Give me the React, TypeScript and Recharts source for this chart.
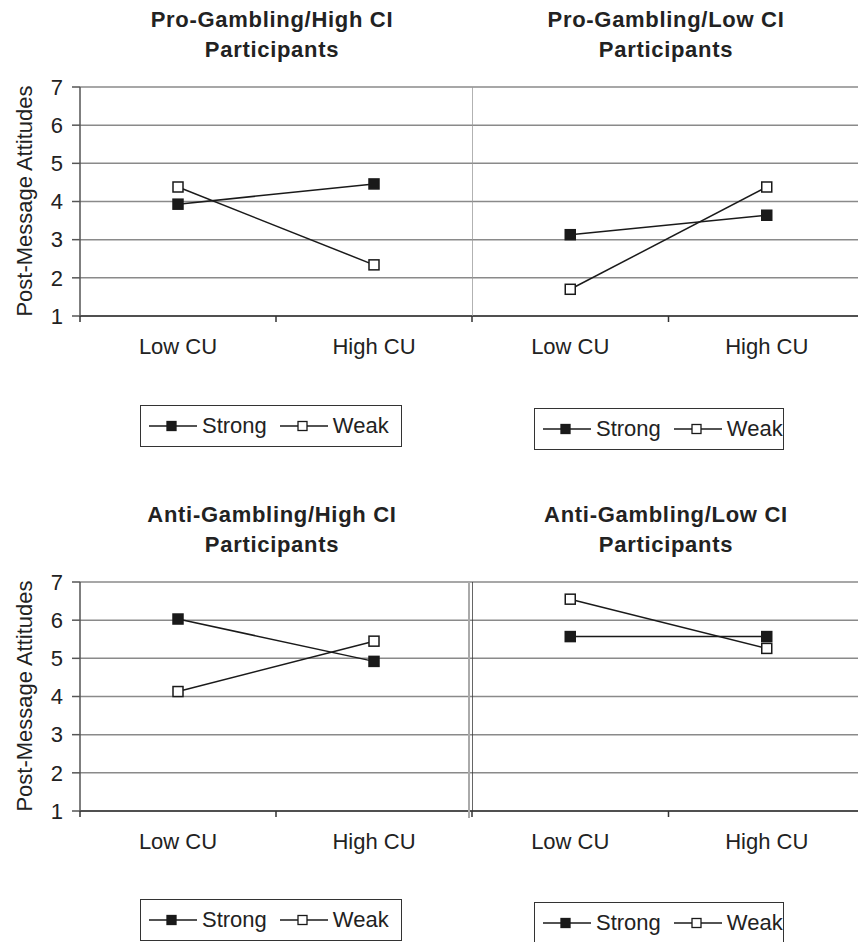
import React from 'react'
import { LineChart, Line, XAxis, YAxis, CartesianGrid, Label } from 'recharts'

const categories = ['Low CU', 'High CU']
const yTicks = [1, 2, 3, 4, 5, 6, 7]
const seriesNames = ['Strong', 'Weak']

const proHighStrong = [3.93, 4.46]
const proHighWeak = [4.38, 2.34]
const proLowStrong = [3.13, 3.64]
const proLowWeak = [1.7, 4.38]
const antiHighStrong = [6.03, 4.92]
const antiHighWeak = [4.13, 5.45]
const antiLowStrong = [5.57, 5.57]
const antiLowWeak = [6.55, 5.26]

const FONT = '"Liberation Sans", Arial, sans-serif'
const INK = '#1a1a1a'

const toRows = (strong: number[], weak: number[]) =>
    categories.map((c, i) => ({ cu: c, Strong: strong[i], Weak: weak[i] }))

const squareDot = (filled: boolean) => (props: any) => {
    const { cx, cy, index } = props
    if (cx == null || cy == null) return <g key={index} />
    return (
        <rect
            key={index}
            x={cx - 5}
            y={cy - 5}
            width={10}
            height={10}
            fill={filled ? INK : '#fff'}
            stroke={INK}
            strokeWidth={1.5}
        />
    )
}

const CatTick = (props: any) => {
    const { x, y, payload, index, visibleTicksCount } = props
    const half = payload && payload.offset ? payload.offset : 98
    const last = index === (visibleTicksCount ?? 2) - 1
    return (
        <g>
            <line x1={x - half} y1={y} x2={x - half} y2={y + 6} stroke="#333" strokeWidth={1.5} />
            {last && <line x1={x + half} y1={y} x2={x + half} y2={y + 6} stroke="#333" strokeWidth={1.5} />}
            <text x={x} y={y + 38} textAnchor="middle" fill="#222" fontSize={22} fontFamily={FONT}>
                {payload.value}
            </text>
        </g>
    )
}

const EmptyTick = () => <g />

const renderYLabel = () => (
    <text
        x={24}
        y={201}
        transform="rotate(-90 24 201)"
        textAnchor="middle"
        dominantBaseline="central"
        fill="#222"
        fontSize={22}
        fontFamily={FONT}
    >
        Post-Message Attitudes
    </text>
)

function Panel({
    title,
    strong,
    weak,
    left,
    top,
    width,
    titleX,
    showY,
    axisColor,
}: {
    title: string[]
    strong: number[]
    weak: number[]
    left: number
    top: number
    width: number
    titleX: number
    showY: boolean
    axisColor: string
}) {
    const data = toRows(strong, weak)
    return (
        <div style={{ position: 'absolute', left, top, width, height: 376 }}>
            <div
                style={{
                    position: 'absolute',
                    left: titleX - 200,
                    top: 5,
                    width: 400,
                    textAlign: 'center',
                    fontWeight: 'bold',
                    fontSize: 22,
                    lineHeight: '30px',
                    letterSpacing: 0.7,
                    color: '#222',
                    zIndex: 2,
                }}
            >
                {title.map((t) => (
                    <div key={t}>{t}</div>
                ))}
            </div>
            <LineChart
                width={width}
                height={376}
                data={data}
                margin={{ top: 87, right: 0, bottom: 0, left: showY ? 0 : -1 }}
            >
                <CartesianGrid horizontal vertical={false} stroke="#8a8a8a" strokeWidth={1.5} />
                <XAxis
                    dataKey="cu"
                    type="category"
                    scale="band"
                    height={60}
                    axisLine={{ stroke: '#333', strokeWidth: 1.5 }}
                    tickLine={false}
                    tickSize={0}
                    tickMargin={0}
                    interval={0}
                    tick={<CatTick />}
                />
                {showY ? (
                    <YAxis
                        type="number"
                        domain={[1, 7]}
                        ticks={yTicks}
                        interval={0}
                        width={80}
                        axisLine={{ stroke: axisColor, strokeWidth: 1.5 }}
                        tickLine={{ stroke: axisColor, strokeWidth: 1.5 }}
                        tickSize={8}
                        tickMargin={9}
                        tick={{ fill: '#222', fontSize: 22, fontFamily: FONT }}
                        label={<Label content={renderYLabel} />}
                    />
                ) : (
                    <YAxis
                        type="number"
                        domain={[1, 7]}
                        ticks={yTicks}
                        interval={0}
                        width={1}
                        axisLine={{ stroke: axisColor, strokeWidth: 1.5 }}
                        tickLine={false}
                        tick={EmptyTick}
                    />
                )}
                <Line
                    type="linear"
                    dataKey="Strong"
                    name={seriesNames[0]}
                    stroke={INK}
                    strokeWidth={1.5}
                    dot={squareDot(true)}
                    activeDot={false}
                    isAnimationActive={false}
                />
                <Line
                    type="linear"
                    dataKey="Weak"
                    name={seriesNames[1]}
                    stroke={INK}
                    strokeWidth={1.5}
                    dot={squareDot(false)}
                    activeDot={false}
                    isAnimationActive={false}
                />
            </LineChart>
        </div>
    )
}

function LegendMark({ filled }: { filled: boolean }) {
    return (
        <svg width={48} height={12} style={{ display: 'block' }}>
            <line x1={0} y1={6} x2={48} y2={6} stroke={INK} strokeWidth={1.5} />
            <rect x={18} y={1.5} width={9} height={9} fill={filled ? INK : '#fff'} stroke={INK} strokeWidth={1.3} />
        </svg>
    )
}

function LegendBox({ left, top, width }: { left: number; top: number; width: number }) {
    return (
        <div
            style={{
                position: 'absolute',
                left,
                top,
                width,
                height: 42,
                boxSizing: 'border-box',
                border: '1.5px solid #333',
                background: '#fff',
                display: 'flex',
                alignItems: 'center',
                paddingLeft: 8,
                fontSize: 22,
                color: '#222',
            }}
        >
            {seriesNames.map((s, i) => (
                <div key={s} style={{ display: 'flex', alignItems: 'center', marginRight: 13 }}>
                    <LegendMark filled={i === 0} />
                    <span style={{ marginLeft: 5 }}>{s}</span>
                </div>
            ))}
        </div>
    )
}

export default function App() {
    return (
        <div
            style={{
                position: 'absolute',
                left: 0,
                top: 0,
                width: 858,
                height: 942,
                overflow: 'hidden',
                background: '#fff',
                fontFamily: FONT,
            }}
        >
            <Panel
                title={['Pro-Gambling/High CI', 'Participants']}
                strong={proHighStrong}
                weak={proHighWeak}
                left={0}
                top={0}
                width={472}
                titleX={272}
                showY
                axisColor="#555"
            />
            <Panel
                title={['Pro-Gambling/Low CI', 'Participants']}
                strong={proLowStrong}
                weak={proLowWeak}
                left={472}
                top={0}
                width={393}
                titleX={194}
                showY={false}
                axisColor="#999"
            />
            <Panel
                title={['Anti-Gambling/High CI', 'Participants']}
                strong={antiHighStrong}
                weak={antiHighWeak}
                left={0}
                top={495}
                width={472}
                titleX={272}
                showY
                axisColor="#555"
            />
            <Panel
                title={['Anti-Gambling/Low CI', 'Participants']}
                strong={antiLowStrong}
                weak={antiLowWeak}
                left={472}
                top={495}
                width={393}
                titleX={194}
                showY={false}
                axisColor="#333"
            />
            <div style={{ position: 'absolute', left: 468, top: 582, width: 2, height: 236, background: '#aaa' }} />
            <LegendBox left={140} top={405} width={262} />
            <LegendBox left={534} top={408} width={250} />
            <LegendBox left={140} top={899} width={262} />
            <LegendBox left={534} top={902} width={250} />
        </div>
    )
}
